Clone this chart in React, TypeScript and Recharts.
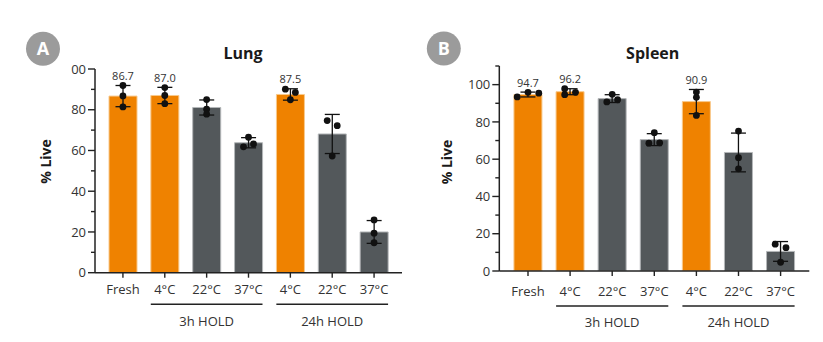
import React from 'react';
import { ComposedChart, Bar, XAxis, YAxis, ErrorBar, Scatter, Cell, LabelList } from 'recharts';

const FONT = "'Open Sans', 'Noto Sans', sans-serif";
const ORANGE = '#EF8200';
const ORANGE_EDGE = '#F8C98C';
const GRAY = '#53585B';
const GRAY_EDGE = '#B4B7B9';
const INK = '#222';

// ---- data ----
const categories = ['Fresh', '4°C', '22°C', '37°C', '4°C', '22°C', '37°C'];
const groups = ['', '3h HOLD', '3h HOLD', '3h HOLD', '24h HOLD', '24h HOLD', '24h HOLD'];
const highlighted = ['Fresh', '4°C'];

const lungMean = [86.7, 87.0, 81.1, 63.8, 87.5, 68.1, 20.0];
const lungSd = [5.2, 4.0, 3.7, 2.5, 2.8, 9.6, 5.6];
const lungReps = [
  [91.9, 86.8, 81.4],
  [90.9, 87.0, 83.0],
  [85.0, 80.3, 77.8],
  [66.5, 61.8, 63.2],
  [90.1, 84.9, 88.5],
  [74.7, 57.3, 72.2],
  [25.9, 19.4, 14.7],
];
const lungJitter = [
  [0, 0, 0],
  [0, 0, 0],
  [0, 0, 0],
  [0, -1, 1],
  [-1, 0, 1],
  [-1, 0, 1],
  [0, 0, 0],
];

const spleenMean = [94.7, 96.2, 92.5, 70.5, 90.9, 63.6, 10.5];
const spleenSd = [1.3, 1.6, 2.1, 3.2, 6.5, 10.4, 5.3];
const spleenReps = [
  [93.4, 95.9, 95.4],
  [97.8, 94.6, 95.9],
  [94.8, 90.7, 91.9],
  [74.2, 68.6, 68.8],
  [96.0, 93.2, 83.5],
  [75.1, 60.8, 54.8],
  [14.4, 12.5, 4.7],
];
const spleenJitter = [
  [-2, 0, 2],
  [-1, -1, 1],
  [0, -1, 1],
  [0, -1, 1],
  [0, 0, 0],
  [0, 0, 0],
  [-1, 1, 0],
];

const lungTicks = [0, 10, 20, 30, 40, 50, 60, 70, 80, 90, 100];
const spleenTicks = [0, 10, 20, 30, 40, 50, 60, 70, 80, 90, 100, 110];

function buildRows(mean: number[], sd: number[], reps: number[][], jit: number[][]) {
  return categories.map((c, i) => ({
    key: `${groups[i] || 'base'}-${c}`,
    label: c,
    group: groups[i],
    mean: mean[i],
    sd: sd[i],
    r0: reps[i][0],
    r1: reps[i][1],
    r2: reps[i][2],
    j0: jit[i][0],
    j1: jit[i][1],
    j2: jit[i][2],
  }));
}

type Cfg = {
  left: number;
  width: number;
  height: number;
  margin: { top: number; right: number; bottom: number; left: number };
  yAxisWidth: number;
  padding: number;
  domain: [number, number];
  ticks: number[];
  yLabel: (v: number) => string;
  labelOff: number;
  lineOff: number;
  grpOff: number;
  jitterUnit: number;
  rows: ReturnType<typeof buildRows>;
};

const TS = 7;
const TM = 2;
const BAR = 28;

function Panel({ cfg }: { cfg: Cfg }) {
  const { width, height, margin, yAxisWidth, padding, domain, ticks, rows } = cfg;
  const plotW = width - margin.left - margin.right - yAxisWidth;
  const bw = (plotW - padding * 2) / rows.length;

  const YTick = (p: any) => {
    const v = p.payload.value;
    const major = v % 20 === 0 && v <= 100;
    const ax = p.x + TS + TM;
    return (
      <g>
        <line x1={ax} x2={ax - (major ? 7 : 4)} y1={p.y} y2={p.y} stroke={INK} strokeWidth={1.4} />
        {major && (
          <text x={p.x} y={p.y} dy="0.36em" textAnchor="end" fontSize={13} fill="#333" fontFamily={FONT}>
            {cfg.yLabel(v)}
          </text>
        )}
      </g>
    );
  };

  const XTick = (p: any) => {
    const idx = p.index;
    const row = rows[idx];
    const axisY = p.y - 5;
    const g = row.group;
    let bracket = null;
    if (g) {
      const members = rows.map((r, i) => (r.group === g ? i : -1)).filter((i) => i >= 0);
      const first = members[0];
      const last = members[members.length - 1];
      if (idx === first) {
        const x1 = p.x - BAR / 2;
        const x2 = p.x + (last - first) * bw + BAR / 2;
        bracket = (
          <g>
            <line x1={x1} x2={x2} y1={axisY + cfg.lineOff} y2={axisY + cfg.lineOff} stroke={INK} strokeWidth={1.4} />
            <text x={(x1 + x2) / 2} y={axisY + cfg.grpOff} textAnchor="middle" fontSize={13} fill="#333" fontFamily={FONT}>
              {g}
            </text>
          </g>
        );
      }
    }
    return (
      <g>
        <text x={p.x} y={axisY + cfg.labelOff} textAnchor="middle" fontSize={13} fill="#333" fontFamily={FONT}>
          {row.label}
        </text>
        {bracket}
      </g>
    );
  };

  const makeDot = (k: 'j0' | 'j1' | 'j2') => (p: any) => {
    if (p.cx == null || p.cy == null) return <g />;
    const j = p.payload ? p.payload[k] : 0;
    return <circle cx={p.cx + j * cfg.jitterUnit} cy={p.cy} r={3.4} fill="#111" />;
  };

  const ValueLabel = (p: any) => {
    const row = rows[p.index];
    if (!row || !highlighted.includes(row.label)) return null;
    const h = Math.abs(p.height);
    const errPx = (row.sd * h) / row.mean;
    const top = Math.min(p.y, p.y + p.height);
    return (
      <text x={p.x + p.width / 2} y={top - errPx - 5.5} textAnchor="middle" fontSize={11} fill="#333" fontFamily={FONT}>
        {row.mean.toFixed(1)}
      </text>
    );
  };

  return (
    <ComposedChart width={width} height={height} data={rows} margin={margin}>
      <XAxis
        dataKey="key"
        type="category"
        padding={{ left: padding, right: padding }}
        axisLine={{ stroke: INK, strokeWidth: 1.5 }}
        tickLine={{ stroke: INK, strokeWidth: 1.4 }}
        tickSize={5}
        tickMargin={0}
        interval={0}
        tick={XTick}
      />
      <YAxis
        type="number"
        width={yAxisWidth}
        domain={domain}
        ticks={ticks}
        interval={0}
        allowDataOverflow
        axisLine={{ stroke: INK, strokeWidth: 1.5 }}
        tickLine={false}
        tickSize={TS}
        tickMargin={TM}
        tick={YTick}
      />
      <Bar dataKey="mean" barSize={BAR} isAnimationActive={false} strokeWidth={1}>
        {rows.map((r, i) => {
          const hi = highlighted.includes(r.label);
          return <Cell key={i} fill={hi ? ORANGE : GRAY} stroke={hi ? ORANGE_EDGE : GRAY_EDGE} />;
        })}
        <ErrorBar dataKey="sd" width={7.5} stroke="#111" strokeWidth={1.3} direction="y" />
        <LabelList dataKey="mean" content={ValueLabel} />
      </Bar>
      <Scatter dataKey="r0" isAnimationActive={false} shape={makeDot('j0')} />
      <Scatter dataKey="r1" isAnimationActive={false} shape={makeDot('j1')} />
      <Scatter dataKey="r2" isAnimationActive={false} shape={makeDot('j2')} />
    </ComposedChart>
  );
}

const lungCfg: Cfg = {
  left: 0,
  width: 411,
  height: 342,
  margin: { top: 69, right: 9, bottom: 39.3, left: 55 },
  yAxisWidth: 40,
  padding: 7,
  domain: [0, 100],
  ticks: lungTicks,
  yLabel: (v) => (v === 100 ? '00' : String(v)),
  labelOff: 21,
  lineOff: 31.6,
  grpOff: 53,
  jitterUnit: 5,
  rows: buildRows(lungMean, lungSd, lungReps, lungJitter),
};

const spleenCfg: Cfg = {
  left: 411,
  width: 412,
  height: 342,
  margin: { top: 66, right: 13.7, bottom: 41, left: 48.3 },
  yAxisWidth: 40,
  padding: 7.65,
  domain: [0, 110],
  ticks: spleenTicks,
  yLabel: (v) => String(v),
  labelOff: 24.5,
  lineOff: 35,
  grpOff: 56,
  jitterUnit: 5.4,
  rows: buildRows(spleenMean, spleenSd, spleenReps, spleenJitter),
};

const panels = [
  { cfg: lungCfg, title: 'Lung', badge: 'A', badgeX: 43, badgeY: 48.7, titleX: 243, yLabX: 45, yLabY: 161.5 },
  { cfg: spleenCfg, title: 'Spleen', badge: 'B', badgeX: 443.8, badgeY: 48.5, titleX: 652.7, yLabX: 446.8, yLabY: 162 },
];

export default function App() {
  return (
    <div style={{ position: 'absolute', left: 0, top: 0, width: 823, height: 342, background: '#fff', fontFamily: FONT }}>
      {panels.map((p) => (
        <div key={p.title} style={{ position: 'absolute', left: p.cfg.left, top: 0 }}>
          <Panel cfg={p.cfg} />
        </div>
      ))}
      <svg width={823} height={342} style={{ position: 'absolute', left: 0, top: 0, pointerEvents: 'none' }}>
        {panels.map((p) => (
          <g key={p.title}>
            <circle cx={p.badgeX} cy={p.badgeY} r={17} fill="#9B9B9B" />
            <text x={p.badgeX} y={p.badgeY + 6.3} textAnchor="middle" fontSize={18} fontWeight={700} fill="#fff" fontFamily={FONT}>
              {p.badge}
            </text>
            <text x={p.titleX} y={59.3} textAnchor="middle" fontSize={16} fontWeight={700} fill="#1a1a1a" fontFamily={FONT}>
              {p.title}
            </text>
            <text
              x={p.yLabX}
              y={p.yLabY}
              transform={`rotate(-90 ${p.yLabX} ${p.yLabY})`}
              textAnchor="middle"
              dominantBaseline="central"
              fontSize={14}
              fontWeight={700}
              fill="#1a1a1a"
              fontFamily={FONT}
            >
              % Live
            </text>
          </g>
        ))}
      </svg>
    </div>
  );
}
